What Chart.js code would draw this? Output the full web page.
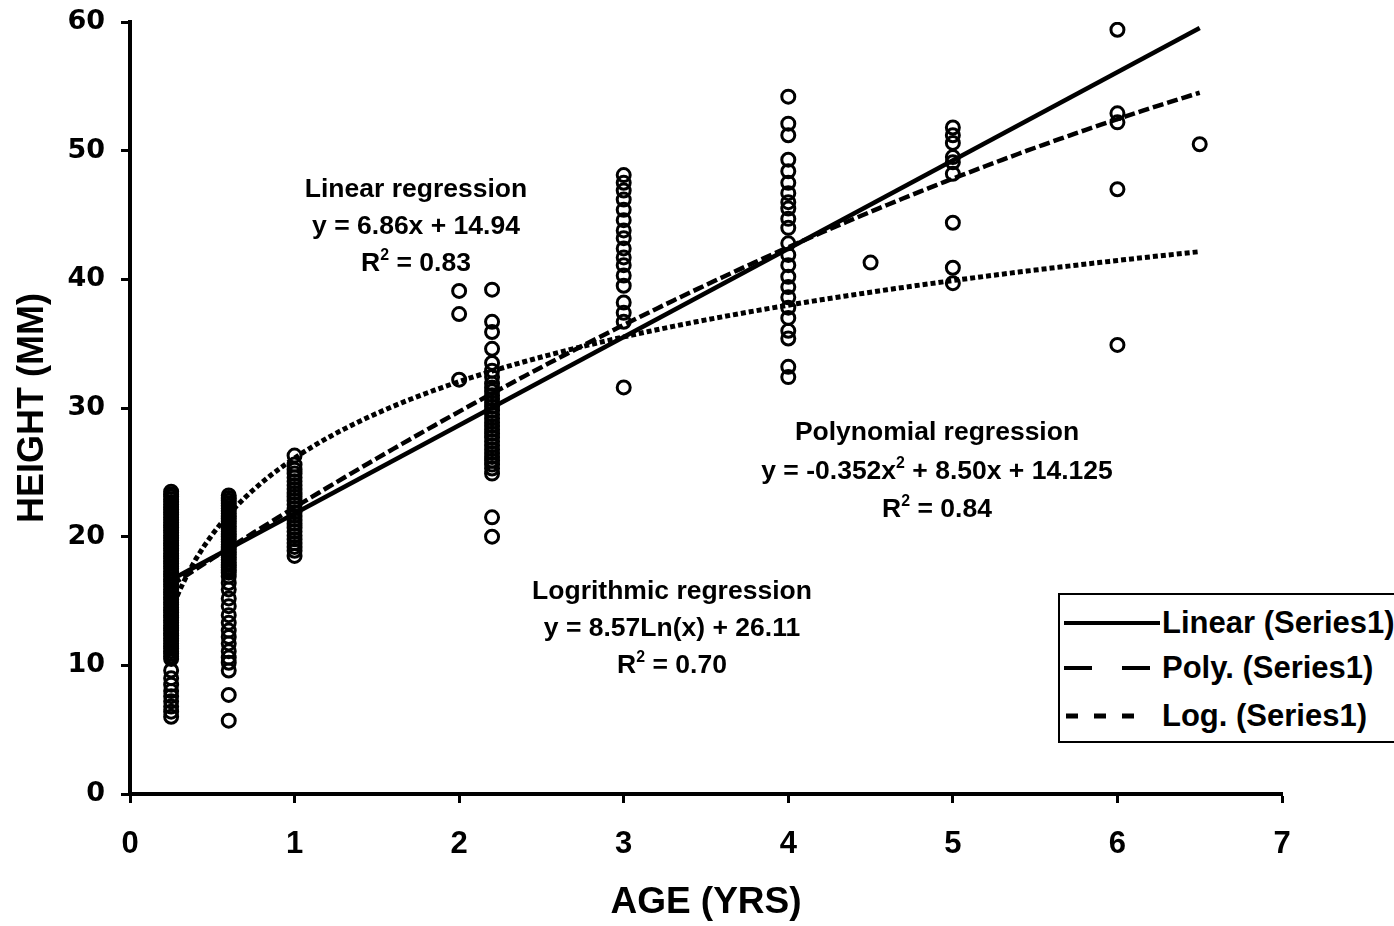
<!DOCTYPE html>
<html lang="en">
<head>
  <meta charset="UTF-8" />
  <title>Height vs Age</title>
  <script src="https://cdn.jsdelivr.net/npm/chart.js"></script>
  <style>
    body { margin: 0; background: #fff; overflow: hidden; }
    #wrap { position: relative; width: 1394px; height: 926px; overflow: hidden; }
    .note {
      position: absolute; text-align: center; white-space: nowrap;
      font: bold 26.5px "Liberation Sans", Arial, sans-serif; line-height: 37px; color: #000;
      transform: translateX(-50%);
    }
    .note sup { font-size: 60%; line-height: 0; vertical-align: 0.7em; }
    #legend {
      position: absolute; left: 1058px; top: 593px; width: 360px; height: 146px;
      border: 2px solid #000; background: #fff;
      font: bold 31px "Liberation Sans", Arial, sans-serif; color: #000;
    }
    #legend .row { position: absolute; left: 0; height: 40px; display: flex; align-items: center; }
    #legend svg { margin-left: 4px; margin-right: 2px; }
  </style>
</head>
<body>
  <div id="wrap">
    <canvas id="chart" width="1394" height="926"></canvas>

    <div class="note" style="left:416px; top:170px;">Linear regression<br>y = 6.86x + 14.94<br>R<sup>2</sup> = 0.83</div>
    <div class="note" style="left:937px; top:412px; line-height:38.5px;">Polynomial regression<br>y = -0.352x<sup>2</sup> + 8.50x + 14.125<br>R<sup>2</sup> = 0.84</div>
    <div class="note" style="left:672px; top:572px;">Logrithmic regression<br>y = 8.57Ln(x) + 26.11<br>R<sup>2</sup> = 0.70</div>

    <div id="legend">
      <div class="row" style="top:8px;">
        <svg width="96" height="10"><line x1="0" y1="5" x2="96" y2="5" stroke="#000" stroke-width="4"/></svg>Linear (Series1)
      </div>
      <div class="row" style="top:53px;">
        <svg width="96" height="10"><line x1="0" y1="5" x2="96" y2="5" stroke="#000" stroke-width="4" stroke-dasharray="28 30"/></svg>Poly. (Series1)
      </div>
      <div class="row" style="top:101px;">
        <svg width="96" height="10"><line x1="2" y1="5" x2="72" y2="5" stroke="#000" stroke-width="5" stroke-dasharray="12 16"/></svg>Log. (Series1)
      </div>
    </div>
  </div>

  <script>
    // measured ages (years) and the heights (mm) recorded at each age
    const ages = [0.25, 0.6, 1, 2, 2.2, 3, 4, 4.5, 5, 6, 6.5];
    const heights = [
      [23.5, 23.3, 23.1, 22.9, 22.7, 22.5, 22.3, 22.1, 21.9, 21.7, 21.5, 21.3, 21.1, 20.9, 20.7, 20.5,
       20.3, 20.1, 19.9, 19.7, 19.5, 19.3, 19.1, 18.9, 18.7, 18.5, 18.3, 18.1, 17.9, 17.7, 17.5, 17.3,
       17.1, 16.9, 16.7, 16.5, 16.3, 16.1, 15.9, 15.7, 15.5, 15.3, 15.1, 14.9, 14.7, 14.5, 14.3, 14.1,
       13.9, 13.7, 13.5, 13.3, 13.1, 12.9, 12.7, 12.5, 12.3, 12.1, 11.9, 11.7, 11.5, 11.3, 11.1, 10.9,
       10.7, 10.5, 9.6, 9.0, 8.5, 8.0, 7.6, 7.2, 6.8, 6.4, 6.0],
      [23.2, 23.0, 22.8, 22.6, 22.4, 22.2, 22.0, 21.8, 21.6, 21.4, 21.2, 21.0, 20.8, 20.6, 20.4, 20.2,
       20.0, 19.8, 19.6, 19.4, 19.2, 19.0, 18.8, 18.6, 18.4, 18.2, 18.0, 17.8, 17.6, 17.4, 17.2, 16.9,
       16.4, 15.9, 15.2, 14.6, 13.9, 13.3, 12.7, 12.2, 11.7, 11.1, 10.6, 10.2, 9.6, 7.7, 5.7],
      [26.3, 25.6, 25.2, 24.9, 24.6, 24.3, 24.0, 23.7, 23.4, 23.1, 22.8, 22.5, 22.2, 21.9, 21.6, 21.3,
       21.0, 20.7, 20.4, 20.1, 19.8, 19.5, 19.2, 18.9, 18.5],
      [39.1, 37.3, 32.2],
      [39.2, 36.7, 35.9, 34.6, 33.5, 32.9, 32.4, 31.9, 31.6, 31.3, 31.0, 30.7, 30.4, 30.1, 29.8, 29.5,
       29.2, 28.9, 28.6, 28.3, 28.0, 27.7, 27.4, 27.1, 26.8, 26.5, 26.2, 25.9, 25.6, 25.3, 24.9, 21.5, 20.0],
      [48.1, 47.5, 46.9, 46.2, 45.4, 44.6, 43.8, 43.2, 42.4, 41.7, 41.1, 40.3, 39.5, 38.2, 37.4, 36.7, 31.6],
      [54.2, 52.1, 51.2, 49.3, 48.4, 47.5, 46.7, 46.0, 45.5, 44.7, 44.0, 42.8, 41.9, 41.1, 40.2, 39.4,
       38.6, 37.8, 37.0, 36.0, 35.4, 33.2, 32.4],
      [41.3],
      [51.8, 51.2, 50.6, 49.5, 49.1, 48.2, 44.4, 40.9, 39.7],
      [59.4, 52.9, 52.2, 47.0, 34.9],
      [50.5]
    ];

    // trendline coefficients as printed on the chart
    const linearCoef = [6.86, 14.94];          // y = a*x + b
    const polyCoef = [-0.352, 8.50, 14.125];   // y = a*x^2 + b*x + c
    const logCoef = [8.57, 26.11];             // y = a*ln(x) + b
    const trendRange = [0.25, 6.5];

    const points = [];
    ages.forEach((age, i) => heights[i].forEach(h => points.push({ x: age, y: h })));

    const trendX = [];
    for (let x = trendRange[0]; x <= trendRange[1] + 1e-9; x += 0.05) trendX.push(+x.toFixed(2));

    const linearLine = trendRange.map(x => ({ x, y: linearCoef[0] * x + linearCoef[1] }));
    const polyLine = trendX.map(x => ({ x, y: polyCoef[0] * x * x + polyCoef[1] * x + polyCoef[2] }));
    const logLine = trendX.map(x => ({ x, y: logCoef[0] * Math.log(x) + logCoef[1] }));

    const yTickFont = { family: '"DejaVu Sans", sans-serif', size: 27, weight: 'bold' };
    const xTickFont = { family: '"Liberation Sans", sans-serif', size: 31, weight: 'bold' };
    const titleFont = { family: '"Liberation Sans", Arial, sans-serif', size: 37, weight: 'bold' };

    const trend = (data, dash, width) => ({
      type: 'line', data, borderColor: '#000', borderWidth: width, borderDash: dash,
      pointRadius: 0, fill: false, tension: 0
    });

    new Chart(document.getElementById('chart'), {
      type: 'scatter',
      data: {
        datasets: [
          {
            label: 'Series1', data: points,
            pointStyle: 'circle', pointRadius: 6.5, pointBorderWidth: 3,
            borderColor: '#000', backgroundColor: 'rgba(0,0,0,0)'
          },
          trend(linearLine, [], 4.5),
          trend(polyLine, [11, 4], 4.5),
          trend(logLine, [5, 3], 5)
        ]
      },
      options: {
        responsive: false,
        animation: false,
        layout: { padding: { top: 22, right: 112, left: 0, bottom: 0 } },
        plugins: { legend: { display: false }, tooltip: { enabled: false } },
        scales: {
          x: {
            type: 'linear', min: 0, max: 7,
            ticks: { stepSize: 1, color: '#000', font: xTickFont, padding: 23 },
            grid: { drawOnChartArea: false, drawTicks: true, tickLength: 9, tickWidth: 3, tickColor: '#000' },
            border: { display: true, color: '#000', width: 4 },
            title: { display: true, text: 'AGE (YRS)', color: '#000', font: titleFont, padding: { bottom: 1 } },
            afterFit: s => { s.height = 132; s.paddingLeft = 0; s.paddingRight = 0; }
          },
          y: {
            min: 0, max: 60,
            ticks: { stepSize: 10, color: '#000', font: yTickFont, padding: 16 },
            grid: { drawOnChartArea: false, drawTicks: true, tickLength: 9, tickWidth: 3, tickColor: '#000' },
            border: { display: true, color: '#000', width: 4 },
            title: { display: true, text: 'HEIGHT (MM)', color: '#000', font: { ...titleFont, size: 36 }, padding: { top: 11 } },
            afterFit: s => { s.width = 130; s.paddingTop = 0; s.paddingBottom = 0; }
          }
        }
      }
    });
  </script>
</body>
</html>
